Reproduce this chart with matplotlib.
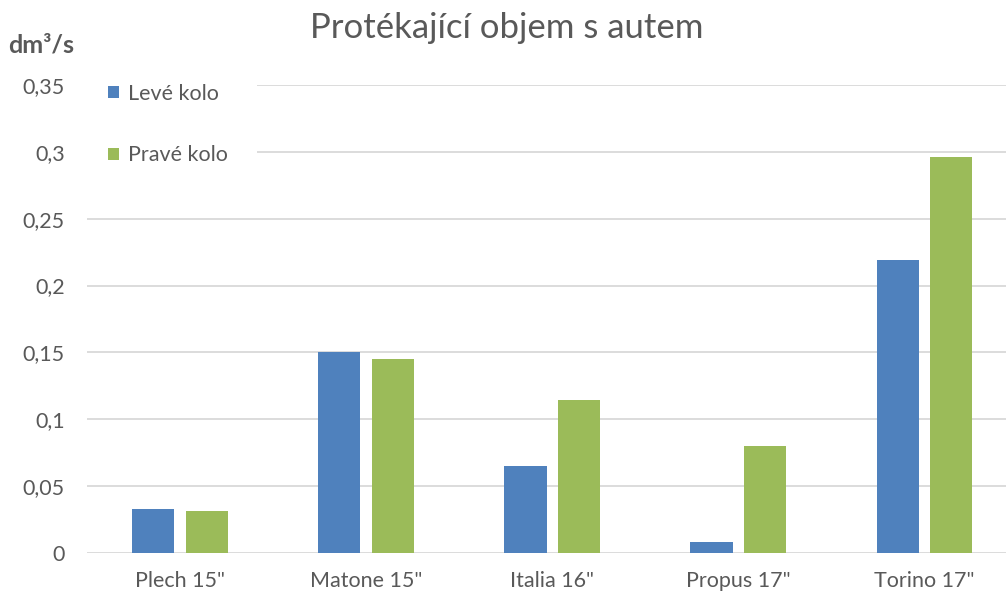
import numpy as np
import matplotlib
matplotlib.use("Agg")
import matplotlib.pyplot as plt
from matplotlib.patches import Rectangle

categories = ['Plech 15"', 'Matone 15"', 'Italia 16"', 'Propus 17"', 'Torino 17"']
leve_kolo = [0.0327, 0.150, 0.065, 0.008, 0.219]
prave_kolo = [0.0316, 0.145, 0.1144, 0.0803, 0.2964]
y_ticks = [0, 0.05, 0.1, 0.15, 0.2, 0.25, 0.3, 0.35]
y_tick_labels = ["0", "0,05", "0,1", "0,15", "0,2", "0,25", "0,3", "0,35"]

BLUE = "#4F81BD"
GREEN = "#9BBB59"
GREY_TEXT = "#595959"
GRID = "#D9D9D9"

plt.rcParams["font.family"] = ["Lato", "DejaVu Sans"]

fig = plt.figure(figsize=(10.06, 5.95), dpi=100)
ax = fig.add_axes([87 / 1006, 1 - 553 / 595, 1 - 87 / 1006, (553 - 85) / 595])

x = np.arange(len(categories))
w = 0.226
ax.bar(x - 0.143, leve_kolo, w, color=BLUE, label="Levé kolo", zorder=3)
ax.bar(x + 0.143, prave_kolo, w, color=GREEN, label="Pravé kolo", zorder=3)

ax.set_xlim(-0.5, 4.44)
ax.set_ylim(0, 0.35)
ax.set_yticks(y_ticks)
ax.set_yticklabels(y_tick_labels)
ax.set_xticks(x)
ax.set_xticklabels(categories)
ax.tick_params(axis="both", length=0, labelsize=15.5, colors=GREY_TEXT)
ax.tick_params(axis="y", pad=16)
ax.tick_params(axis="x", pad=13)
ax.grid(axis="y", color=GRID, linewidth=1.3, zorder=0)
for s in ax.spines.values():
    s.set_visible(False)

# white legend area that hides the gridlines (as in the original)
ax.add_patch(Rectangle((83 / 1006, 1 - 180 / 595), 174 / 1006, 120 / 595,
                       transform=fig.transFigure, facecolor="white",
                       edgecolor="none", zorder=4, clip_on=False))

leg = ax.legend(loc="upper left", bbox_to_anchor=(108 / 1006, 1 - 84 / 595),
                bbox_transform=fig.transFigure, frameon=False,
                fontsize=15.5, labelspacing=1.92, handlelength=0.5,
                handleheight=0.5, handletextpad=0.45, borderpad=0,
                borderaxespad=0)
for t in leg.get_texts():
    t.set_color(GREY_TEXT)
leg.set_zorder(5)

fig.text(507 / 1006, 1 - 28 / 595, "Protékající objem s autem", ha="center",
         va="center", fontsize=25, color=GREY_TEXT)
fig.text(8 / 1006, 1 - 45 / 595, "dm³/s", ha="left", va="center",
         fontsize=18, fontweight="bold", color=GREY_TEXT)

fig.savefig("out.png", dpi=100)
